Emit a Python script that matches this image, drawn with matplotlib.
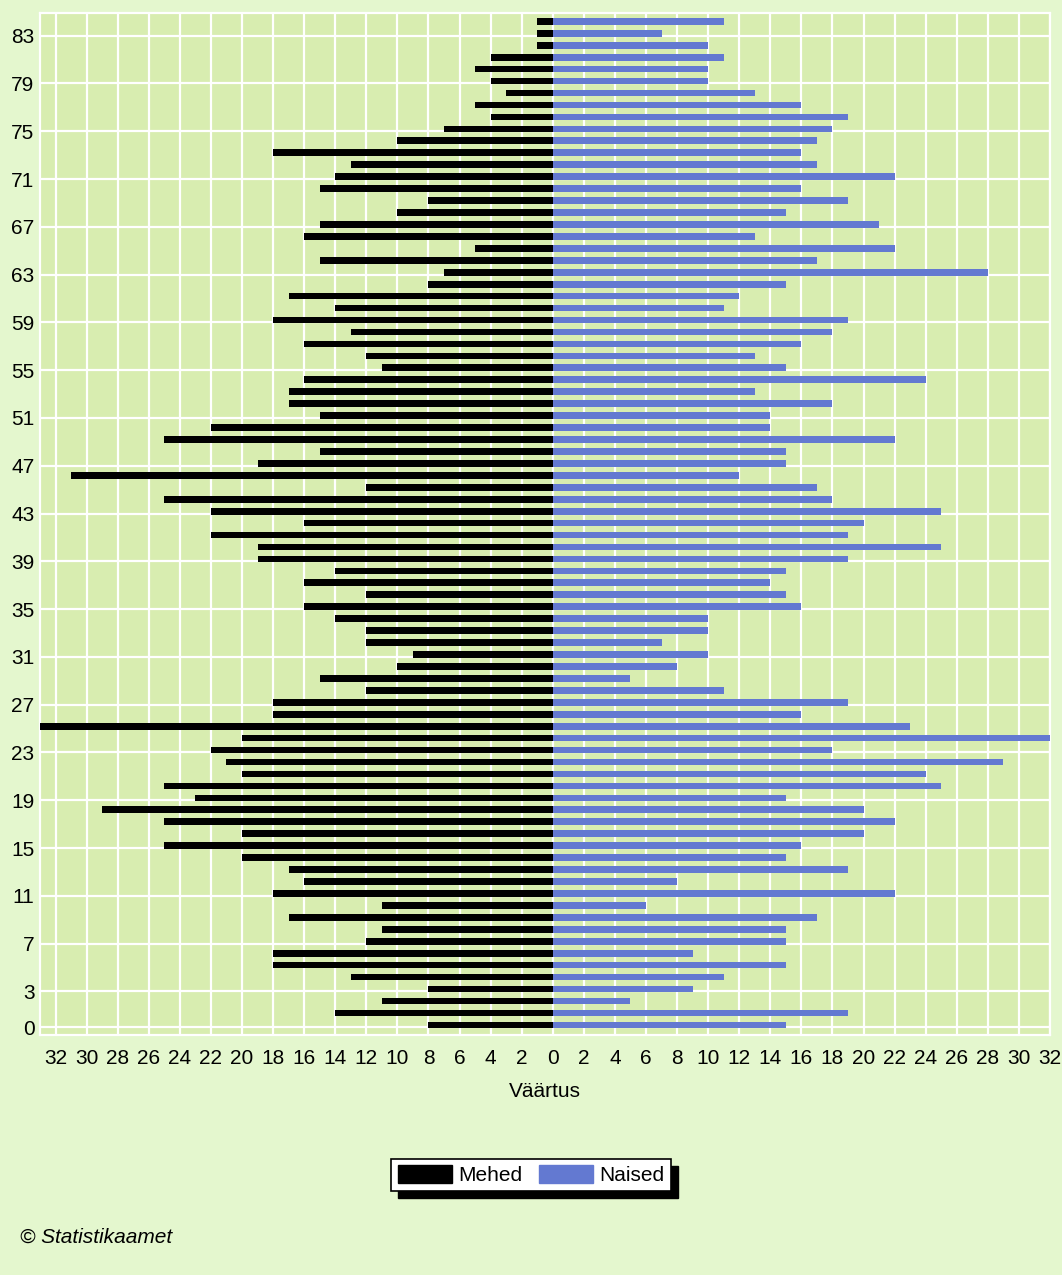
import numpy as np
import matplotlib
matplotlib.use("Agg")
import matplotlib.pyplot as plt
from matplotlib.patches import Rectangle, Patch

ages = list(range(0, 85))
male = [8, 14, 11, 8, 13, 18, 18, 12, 11, 17,
        11, 18, 16, 17, 20, 25, 20, 25, 29, 23,
        25, 20, 21, 22, 20, 33, 18, 18, 12, 15,
        10, 9, 12, 12, 14, 16, 12, 16, 14, 19,
        19, 22, 16, 22, 25, 12, 31, 19, 15, 25,
        22, 15, 17, 17, 16, 11, 12, 16, 13, 18,
        14, 17, 8, 7, 15, 5, 16, 15, 10, 8,
        15, 14, 13, 18, 10, 7, 4, 5, 3, 4,
        5, 4, 1, 1, 1]
female = [15, 19, 5, 9, 11, 15, 9, 15, 15, 17,
          6, 22, 8, 19, 15, 16, 20, 22, 20, 15,
          25, 24, 29, 18, 32, 23, 16, 19, 11, 5,
          8, 10, 7, 10, 10, 16, 15, 14, 15, 19,
          25, 19, 20, 25, 18, 17, 12, 15, 15, 22,
          14, 14, 18, 13, 24, 15, 13, 16, 18, 19,
          11, 12, 15, 28, 17, 22, 13, 21, 15, 19,
          16, 22, 17, 16, 17, 18, 19, 16, 13, 10,
          10, 11, 10, 7, 11]
y_ticks = [0] + list(range(3, 84, 4))
x_ticks = list(range(-32, 33, 2))
series_names = ["Mehed", "Naised"]

FONT = ["Liberation Sans", "DejaVu Sans"]
plt.rcParams["font.family"] = FONT

OUTER = "#E4F7CE"
INNER = "#D8EDB0"
BLUE = "#6379D1"

fig = plt.figure(figsize=(10.62, 12.75), dpi=100, facecolor=OUTER)
W, H = 1062, 1275
ax = fig.add_axes([40 / W, 1 - 1035 / H, (1050 - 40) / W, (1035 - 13) / H])
ax.set_facecolor(INNER)

ax.barh(ages, [-m for m in male], height=0.56, color="black", zorder=3)
ax.barh(ages, female, height=0.56, color=BLUE, zorder=3)

ax.set_xlim(-33, 32)
ax.set_ylim(-0.85, 84.7)
ax.set_xticks(x_ticks)
ax.set_xticklabels([str(abs(v)) for v in x_ticks])
ax.set_yticks([t - 0.2 for t in y_ticks])
ax.set_yticklabels([str(t) for t in y_ticks])
ax.tick_params(axis="both", length=0, labelsize=15, colors="black")
ax.tick_params(axis="x", pad=10)
ax.tick_params(axis="y", pad=4)
ax.grid(True, color="white", linewidth=1.6, zorder=1)
ax.set_axisbelow(True)
for s in ax.spines.values():
    s.set_color("white")
    s.set_linewidth(1.6)

ax.set_xlabel("Väärtus", fontsize=15, labelpad=10)

handles = [Patch(facecolor="black", edgecolor="black"),
           Patch(facecolor=BLUE, edgecolor=BLUE)]
leg = fig.legend(handles, series_names, loc="center",
                 bbox_to_anchor=(531 / W, 1 - 1175 / H),
                 ncol=2, fontsize=15, frameon=True, fancybox=False,
                 edgecolor="black", facecolor="white", framealpha=1,
                 handlelength=2.6, handleheight=1.0, handletextpad=0.3,
                 columnspacing=0.8, borderpad=0.3, borderaxespad=0)
leg.get_frame().set_linewidth(1.2)
leg.set_zorder(5)

fig.canvas.draw()
bb = leg.get_window_extent()
inv = fig.transFigure.inverted()
(x0, y0) = inv.transform((bb.x0 + 7, bb.y0 - 7))
(x1, y1) = inv.transform((bb.x1 + 7, bb.y1 - 7))
fig.patches.append(Rectangle((x0, y0), x1 - x0, y1 - y0, transform=fig.transFigure,
                             facecolor="black", edgecolor="black", zorder=4))

fig.text(20 / W, 1 - 1237 / H, "© Statistikaamet", fontsize=15, style="italic",
         ha="left", va="center")

fig.savefig("out.png", dpi=100, facecolor=OUTER)
